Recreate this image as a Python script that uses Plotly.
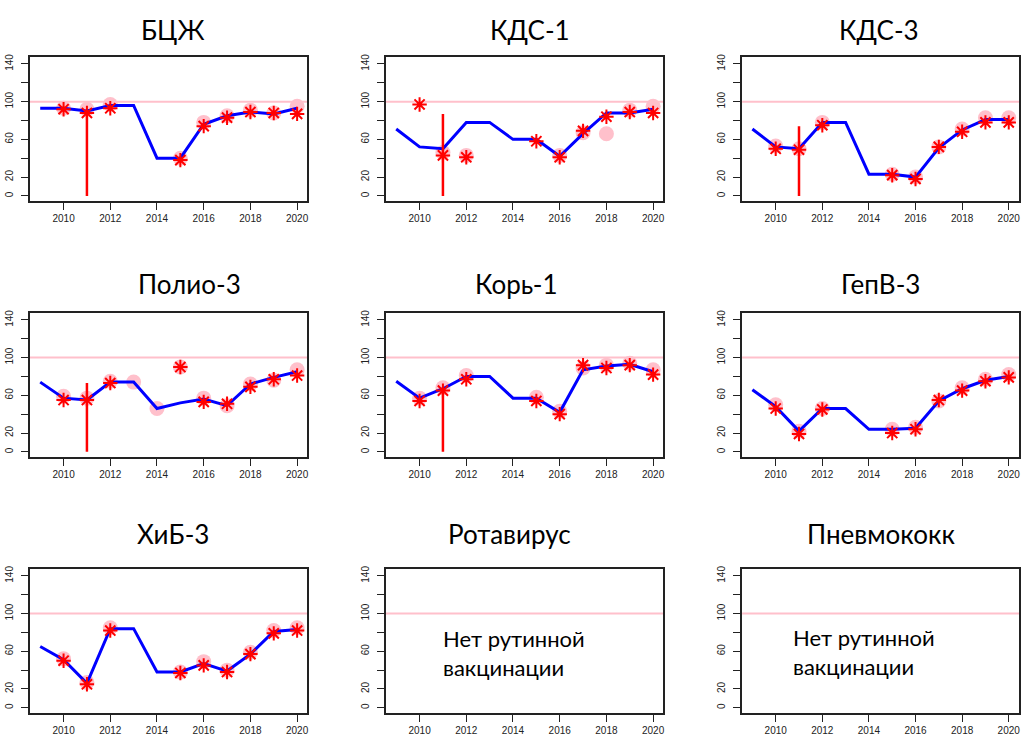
import plotly.graph_objects as go

# ---------------- data ----------------
years = list(range(2009, 2021))
titles = ["БЦЖ", "КДС-1", "КДС-3", "Полио-3", "Корь-1", "ГепВ-3", "ХиБ-3", "Ротавирус", "Пневмококк"]

x_tickvals = [2010, 2012, 2014, 2016, 2018, 2020]
x_ticktext = ["2010", "2012", "2014", "2016", "2018", "2020"]
y_tickvals = [0, 20, 40, 60, 80, 100, 120, 140]
y_ticktext = ["0", "20", "", "60", "", "100", "", "140"]
target_level = 100
no_data_text = "Нет рутинной<br>вакцинации"

# blue line = estimate, red stars = reported, pink circles = official
bcg_line = [93, 93, 90, 96, 96, 40, 40, 76, 85, 89, 87, 93]
bcg_star = [None, 92, 88, 93, None, None, 38, 74, 83, 89, 88, 87]
bcg_circle = [None, 93, 92, 97, None, None, 40, 78, 85, 91, 88, 95]
bcg_survey = (2011, 0, 90)

dtp1_line = [71, 52, 50, 78, 78, 60, 60, 42, 66, 88, 88, 92]
dtp1_star = [None, 97, 43, 41, None, None, 58, 41, 69, 84, 89, 88]
dtp1_circle = [None, None, 46, 43, None, None, None, 43, 67, 66, 91, 95]
dtp1_survey = (2011, 0, 87)

dtp3_line = [71, 52, 50, 78, 78, 23, 23, 20, 51, 70, 81, 81]
dtp3_star = [None, 50, 49, 75, None, None, 22, 18, 52, 68, 78, 78]
dtp3_circle = [None, 53, 50, 78, None, None, 23, 20, 52, 71, 83, 83]
dtp3_survey = (2011, 0, 74)

pol3_line = [74, 57, 55, 74, 74, 46, 52, 56, 49, 72, 79, 85]
pol3_star = [None, 55, 55, 73, None, None, 90, 53, 51, 69, 77, 81]
pol3_circle = [None, 59, 57, 75, 74, 46, 90, 57, 49, 72, 76, 87]
pol3_survey = (2011, 0, 73)

mcv1_line = [75, 57, 67, 80, 80, 57, 57, 42, 87, 91, 93, 85]
mcv1_star = [None, 54, 65, 77, None, None, 54, 40, 92, 89, 92, 82]
mcv1_circle = [None, 57, 68, 81, None, None, 58, 43, 89, 92, 94, 87]
mcv1_survey = (2011, 0, 67)

hepb3_line = [66, 48, 22, 46, 46, 24, 24, 25, 54, 67, 76, 80]
hepb3_star = [None, 46, 19, 45, None, None, 20, 24, 55, 65, 75, 79]
hepb3_circle = [None, 50, 22, 46, None, None, 24, 26, 54, 68, 77, 82]

hib3_line = [65, 51, 26, 84, 84, 38, 38, 47, 39, 57, 81, 83]
hib3_star = [None, 50, 25, 82, None, None, 37, 45, 38, 57, 79, 82]
hib3_circle = [None, 52, 27, 85, None, None, 38, 49, 40, 59, 82, 85]

panels = [
    (bcg_line, bcg_star, bcg_circle, bcg_survey),
    (dtp1_line, dtp1_star, dtp1_circle, dtp1_survey),
    (dtp3_line, dtp3_star, dtp3_circle, dtp3_survey),
    (pol3_line, pol3_star, pol3_circle, pol3_survey),
    (mcv1_line, mcv1_star, mcv1_circle, mcv1_survey),
    (hepb3_line, hepb3_star, hepb3_circle, None),
    (hib3_line, hib3_star, hib3_circle, None),
    None,
    None,
]

# ---------------- layout geometry ----------------
W, H = 1021, 742
col_px = [(30, 308), (386.7, 664.7), (743.6, 1021)]
row_px = [(54, 199), (311, 456), (568, 713)]
title_pos_px = [(173, 27), (531, 27), (881, 27),
                (190, 282), (518, 282), (882, 282),
                (173, 533), (510, 533), (883, 533)]
note_pos_px = {7: (442, 653), 8: (793, 652)}

fig = go.Figure()
layout = dict(
    width=W, height=H,
    margin=dict(l=0, r=0, t=0, b=0),
    paper_bgcolor="white", plot_bgcolor="white",
    showlegend=False,
)
annotations = []
shapes = []

tickfont = dict(family="Liberation Sans, Arial", size=10, color="#222")
textfont = "Lato, Open Sans, sans-serif"

for i in range(9):
    r, c = divmod(i, 3)
    n = i + 1
    xa = "x" if n == 1 else f"x{n}"
    ya = "y" if n == 1 else f"y{n}"
    xl, xr = col_px[c]
    yt, yb = row_px[r]
    layout["xaxis" if n == 1 else f"xaxis{n}"] = dict(
        domain=[xl / W, min(xr / W, 1.0)], anchor=ya,
        range=[2008.56, 2020.44],
        tickvals=x_tickvals, ticktext=x_ticktext,
        ticks="outside", ticklen=7, tickwidth=1.2, tickcolor="#222",
        showline=True, linecolor="#222", linewidth=1.5, mirror=True,
        showgrid=False, zeroline=False, tickfont=tickfont,
        ticklabelstandoff=0,
    )
    layout["yaxis" if n == 1 else f"yaxis{n}"] = dict(
        domain=[1 - yb / H, 1 - yt / H], anchor=xa,
        range=[-5.6, 147.6],
        tickvals=y_tickvals, ticktext=y_ticktext, tickangle=-90,
        ticks="outside", ticklen=7, tickwidth=1.2, tickcolor="#222",
        showline=True, linecolor="#222", linewidth=1.5, mirror=True,
        showgrid=False, zeroline=False, tickfont=tickfont,
        ticklabelstandoff=4,
    )
    # target line at 100
    shapes.append(dict(type="line", xref=f"{xa} domain", yref=ya,
                       x0=0, x1=1, y0=target_level, y1=target_level,
                       line=dict(color="pink", width=2), layer="below"))
    # titles
    tx, ty = title_pos_px[i]
    annotations.append(dict(text=titles[i], xref="paper", yref="paper",
                            x=tx / W, y=1 - ty / H,
                            xanchor="center", yanchor="middle", showarrow=False,
                            font=dict(family=textfont, size=26, color="black")))
    p = panels[i]
    if p is None:
        nx, ny = note_pos_px[i]
        annotations.append(dict(text=no_data_text, xref="paper", yref="paper",
                                x=nx / W, y=1 - ny / H,
                                xanchor="left", yanchor="middle",
                                align="left", showarrow=False,
                                font=dict(family=textfont, size=22, color="black")))
        continue
    line, star, circle, survey = p
    fig.add_trace(go.Scatter(x=years, y=circle, mode="markers", xaxis=xa, yaxis=ya,
                             marker=dict(symbol="circle", size=15, color="pink"),
                             hoverinfo="skip"))
    fig.add_trace(go.Scatter(x=years, y=line, mode="lines", xaxis=xa, yaxis=ya,
                             line=dict(color="blue", width=3)))
    if survey is not None:
        sx, s0, s1 = survey
        fig.add_trace(go.Scatter(x=[sx, sx], y=[s0, s1], mode="lines", xaxis=xa, yaxis=ya,
                                 line=dict(color="red", width=2.5)))
    fig.add_trace(go.Scatter(x=years, y=star, mode="markers", xaxis=xa, yaxis=ya,
                             marker=dict(symbol="asterisk-open", size=12, color="red",
                                         line=dict(color="red", width=2))))

layout["annotations"] = annotations
layout["shapes"] = shapes
fig.update_layout(**layout)
fig.write_html("out.html", config={"displayModeBar": False},
               post_script="document.body.style.margin='0';document.body.style.overflow='hidden';")
